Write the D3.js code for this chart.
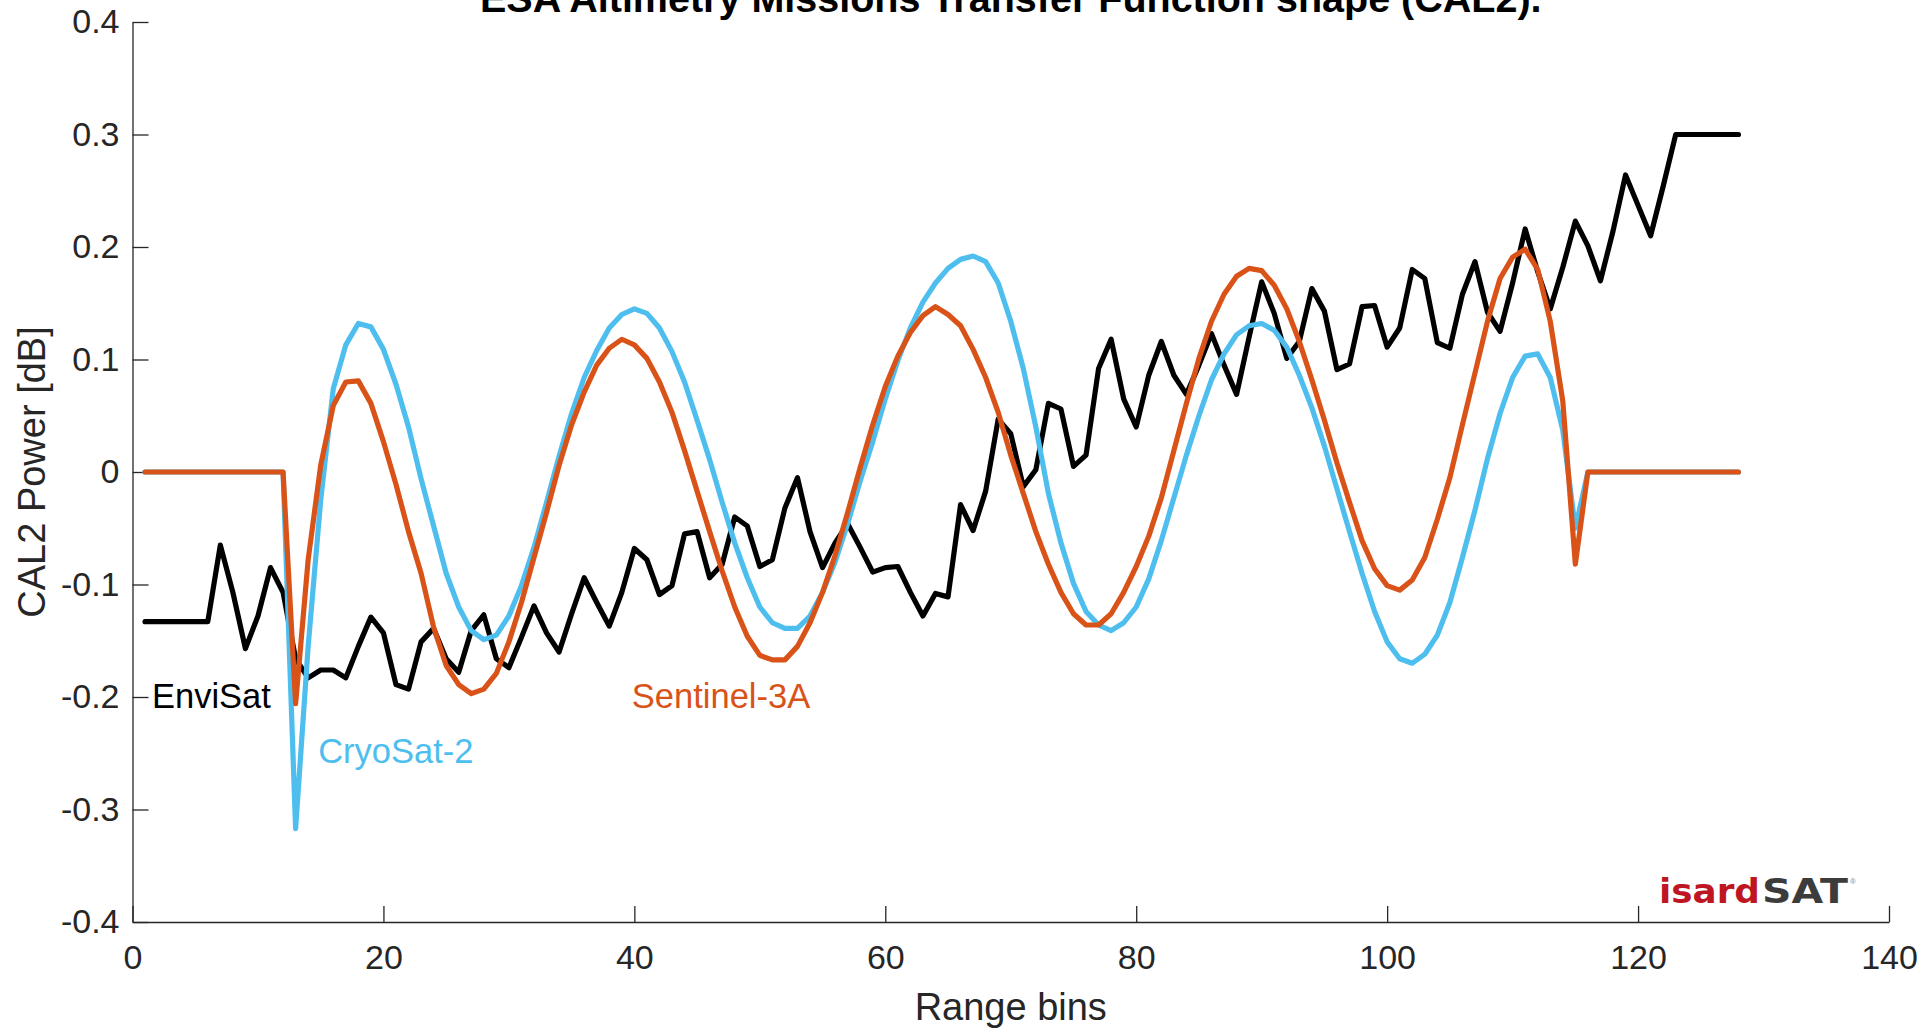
<!DOCTYPE html>
<html>
<head>
<meta charset="utf-8">
<script src="https://cdnjs.cloudflare.com/ajax/libs/d3/7.8.5/d3.min.js"></script>
<style>
  body { margin: 0; background: #fff; }
  svg { display: block; font-family: "Liberation Sans", Arial, Helvetica, sans-serif; }
  .axis .domain, .axis line { stroke: #262626; stroke-width: 1.3; }
  .axis text { fill: #262626; font-size: 34px; font-family: "Liberation Sans", Arial, sans-serif; }
</style>
</head>
<body>
<div id="chart"></div>
<script>
// Range bins 1..128
const bins = d3.range(1, 129);

const envisat = [
  -0.133, -0.133, -0.133, -0.133, -0.133, -0.133, -0.065, -0.107, -0.157, -0.128,
  -0.085, -0.107, -0.166, -0.183, -0.176, -0.176, -0.183, -0.155, -0.129, -0.143,
  -0.189, -0.193, -0.151, -0.139, -0.166, -0.178, -0.141, -0.127, -0.166, -0.174,
  -0.147, -0.119, -0.143, -0.160, -0.126, -0.094, -0.116, -0.137, -0.107, -0.068,
  -0.078, -0.109, -0.101, -0.055, -0.053, -0.094, -0.082, -0.040, -0.048, -0.084,
  -0.078, -0.032, -0.005, -0.053, -0.085, -0.063, -0.046, -0.067, -0.089, -0.085,
  -0.084, -0.107, -0.128, -0.108, -0.111, -0.029, -0.052, -0.017, 0.047, 0.034,
  -0.013, 0.002, 0.061, 0.056, 0.005, 0.015, 0.092, 0.118, 0.065, 0.040,
  0.086, 0.116, 0.086, 0.069, 0.095, 0.123, 0.095, 0.069, 0.120, 0.169,
  0.141, 0.101, 0.116, 0.163, 0.143, 0.091, 0.096, 0.147, 0.148, 0.111,
  0.128, 0.180, 0.172, 0.115, 0.110, 0.158, 0.187, 0.142, 0.125, 0.168,
  0.216, 0.178, 0.145, 0.182, 0.223, 0.201, 0.170, 0.214, 0.264, 0.237,
  0.210, 0.254, 0.300, 0.300, 0.300, 0.300, 0.300, 0.300
];

const cryosat2 = [
  0, 0, 0, 0, 0, 0, 0, 0, 0, 0,
  0, 0, -0.317, -0.155, -0.025, 0.074, 0.113, 0.132, 0.129, 0.109,
  0.078, 0.040, -0.006, -0.048, -0.090, -0.120, -0.141, -0.149, -0.145, -0.128,
  -0.101, -0.067, -0.027, 0.014, 0.052, 0.084, 0.108, 0.128, 0.140, 0.145,
  0.141, 0.128, 0.107, 0.080, 0.046, 0.011, -0.027, -0.063, -0.094, -0.120,
  -0.134, -0.139, -0.139, -0.128, -0.107, -0.080, -0.046, -0.008, 0.027, 0.065,
  0.099, 0.128, 0.151, 0.168, 0.181, 0.189, 0.192, 0.187, 0.168, 0.134,
  0.092, 0.040, -0.019, -0.063, -0.099, -0.124, -0.136, -0.141, -0.134, -0.120,
  -0.095, -0.061, -0.023, 0.015, 0.050, 0.082, 0.105, 0.122, 0.130, 0.132,
  0.126, 0.111, 0.086, 0.057, 0.023, -0.015, -0.053, -0.090, -0.124, -0.151,
  -0.166, -0.170, -0.162, -0.145, -0.116, -0.076, -0.034, 0.012, 0.052, 0.084,
  0.103, 0.105, 0.084, 0.037, -0.050, 0, 0, 0, 0, 0,
  0, 0, 0, 0, 0, 0, 0, 0
];

const sentinel3a = [
  0, 0, 0, 0, 0, 0, 0, 0, 0, 0,
  0, 0, -0.206, -0.078, 0.006, 0.059, 0.080, 0.081, 0.061, 0.027,
  -0.011, -0.053, -0.090, -0.138, -0.172, -0.189, -0.197, -0.193, -0.179, -0.151,
  -0.116, -0.076, -0.036, 0.006, 0.042, 0.071, 0.095, 0.110, 0.118, 0.113,
  0.101, 0.080, 0.053, 0.019, -0.017, -0.053, -0.088, -0.120, -0.146, -0.163,
  -0.167, -0.167, -0.155, -0.134, -0.107, -0.074, -0.036, 0.004, 0.042, 0.076,
  0.103, 0.124, 0.139, 0.147, 0.140, 0.130, 0.109, 0.084, 0.053, 0.015,
  -0.019, -0.053, -0.082, -0.107, -0.126, -0.136, -0.136, -0.126, -0.107, -0.084,
  -0.057, -0.023, 0.019, 0.061, 0.101, 0.134, 0.158, 0.174, 0.181, 0.179,
  0.166, 0.145, 0.116, 0.082, 0.046, 0.008, -0.027, -0.061, -0.086, -0.101,
  -0.105, -0.096, -0.076, -0.042, -0.005, 0.042, 0.088, 0.134, 0.172, 0.191,
  0.198, 0.180, 0.134, 0.063, -0.082, 0, 0, 0, 0, 0,
  0, 0, 0, 0, 0, 0, 0, 0
];

const xTicks = [0, 20, 40, 60, 80, 100, 120, 140];
const yTicks = [-0.4, -0.3, -0.2, -0.1, 0, 0.1, 0.2, 0.3, 0.4];

// series in drawing order (last on top)
const seriesNames = ["EnviSat", "CryoSat-2", "Sentinel-3A"];
const seriesColors = ["#000000", "#4DBEEE", "#D95319"];
const seriesValues = [envisat, cryosat2, sentinel3a];

// in-plot labels, anchored in data coordinates
const labelX = [1.55, 14.8, 39.8];
const labelY = [-0.2099, -0.259, -0.2099];

const margin = {top: 22, right: 34, bottom: 106, left: 132.5};
const width = 1923 - margin.left - margin.right;
const height = 1028 - margin.top - margin.bottom;

const svgRoot = d3.select("#chart")
    .append("svg")
    .attr("width", 1923)
    .attr("height", 1028);

const svg = svgRoot.append("g")
    .attr("transform", `translate(${margin.left},${margin.top})`);

const x = d3.scaleLinear().domain([0, 140]).range([0, width]);
const y = d3.scaleLinear().domain([-0.4, 0.4]).range([height, 0]);

// Axes (MATLAB style: ticks pointing inwards, no box)
svg.append("g")
    .attr("class", "axis")
    .attr("transform", `translate(0,${height})`)
    .call(d3.axisBottom(x)
        .tickValues(xTicks)
        .tickSizeInner(-16)
        .tickSizeOuter(0)
        .tickPadding(23)
        .tickFormat(d3.format("d")));

svg.append("g")
    .attr("class", "axis")
    .call(d3.axisLeft(y)
        .tickValues(yTicks)
        .tickSizeInner(-16)
        .tickSizeOuter(0)
        .tickPadding(13)
        .tickFormat(d => Math.abs(d) < 1e-9 ? "0" : d.toFixed(1)));

// Lines
const line = d3.line()
    .x((d, i) => x(bins[i]))
    .y(d => y(d));

svg.append("g")
    .attr("fill", "none")
    .attr("stroke-width", 5.2)
    .attr("stroke-linejoin", "round")
    .attr("stroke-linecap", "round")
  .selectAll("path")
  .data(seriesValues)
  .join("path")
    .attr("stroke", (d, i) => seriesColors[i])
    .attr("d", line);

// Series labels
svg.append("g")
  .selectAll("text")
  .data(seriesNames)
  .join("text")
    .attr("x", (d, i) => x(labelX[i]))
    .attr("y", (d, i) => y(labelY[i]))
    .attr("fill", (d, i) => seriesColors[i])
    .style("font-size", "34.5px")
    .text(d => d);

// Title (partly cut off at the top, as in the original)
svg.append("text")
    .attr("x", width / 2)
    .attr("y", -10)
    .attr("text-anchor", "middle")
    .style("font-size", "39.5px")
    .style("font-weight", "bold")
    .attr("fill", "#000")
    .text("ESA Altimetry Missions Transfer Function shape (CAL2).");

// Axis labels
svg.append("text")
    .attr("x", width / 2)
    .attr("y", height + 98)
    .attr("text-anchor", "middle")
    .style("font-size", "38px")
    .attr("fill", "#262626")
    .text("Range bins");

svg.append("text")
    .attr("transform", `translate(${-88},${height / 2}) rotate(-90)`)
    .attr("text-anchor", "middle")
    .style("font-size", "38px")
    .attr("fill", "#262626")
    .text("CAL2 Power [dB]");

// isardSAT logo
const logo = svgRoot.append("g")
    .attr("transform", "translate(1659,903)");

logo.append("text")
    .attr("x", 0)
    .attr("y", 0)
    .attr("textLength", 101)
    .attr("lengthAdjust", "spacingAndGlyphs")
    .style("font-family", "'DejaVu Sans', sans-serif")
    .style("font-size", "33px")
    .style("font-weight", "bold")
    .attr("fill", "#BE1622")
    .text("isard");

logo.append("text")
    .attr("x", 103)
    .attr("y", 0)
    .attr("textLength", 86)
    .attr("lengthAdjust", "spacingAndGlyphs")
    .style("font-family", "'DejaVu Sans', sans-serif")
    .style("font-size", "33px")
    .style("font-weight", "bold")
    .attr("fill", "#3C3C3C")
    .text("SAT");

logo.append("text")
    .attr("x", 191)
    .attr("y", -19)
    .style("font-size", "8px")
    .attr("fill", "#888")
    .text("®");
</script>
</body>
</html>
